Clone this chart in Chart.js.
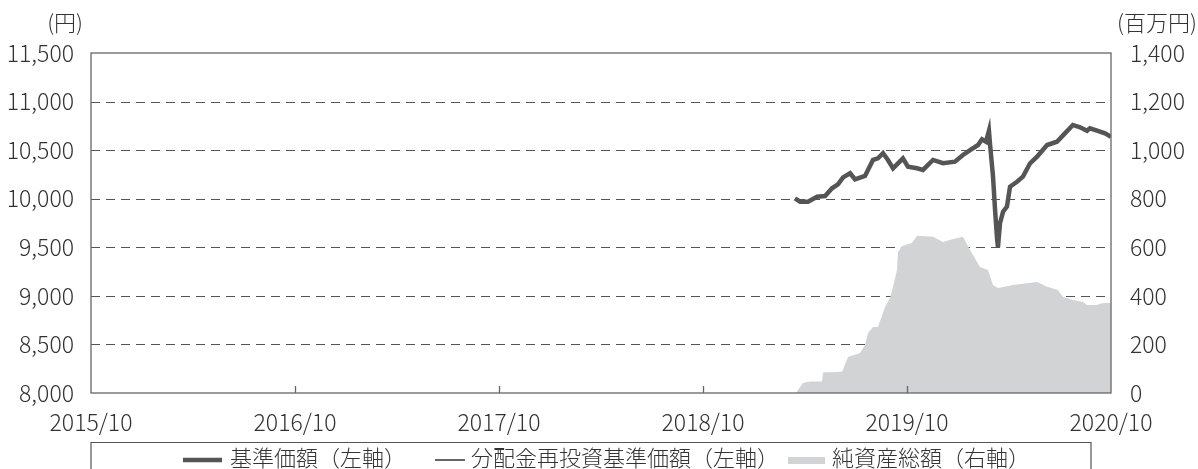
<!DOCTYPE html>
<html>
<head>
<meta charset="utf-8">
<script src="https://cdn.jsdelivr.net/npm/chart.js@4.4.1/dist/chart.umd.min.js"></script>
<style>
html, body { margin: 0; padding: 0; background: #fff; }
#wrap { width: 1198px; height: 469px; }
</style>
</head>
<body>
<div id="wrap"><canvas id="chart"></canvas></div>
<script>
// x values are months counted from 2015/10
const xTickLabels = ['2015/10', '2016/10', '2017/10', '2018/10', '2019/10', '2020/10'];
const xTickMonths = [0, 12, 24, 36, 48, 60];
const leftTicks = [8000, 8500, 9000, 9500, 10000, 10500, 11000, 11500];
const rightTicks = [0, 200, 400, 600, 800, 1000, 1200, 1400];

const navMonths = [41.41, 41.71, 42.18, 42.71, 43.18, 43.59, 43.94, 44.24, 44.65, 44.94,
  45.53, 46.0, 46.29, 46.59, 46.88, 47.18, 47.76, 48.06, 48.59, 48.94,
  49.53, 50.12, 50.82, 51.29, 51.71, 52.18, 52.41, 52.65, 52.82, 52.88,
  53.06, 53.18, 53.29, 53.35, 53.47, 53.65, 53.88, 54.06, 54.47, 54.82,
  55.24, 55.65, 56.24, 56.82, 57.29, 57.76, 58.18, 58.59, 58.76, 59.18, 59.65, 60];
const navValues = [10004, 9970, 9970, 10021, 10028, 10107, 10148, 10220, 10262, 10200,
  10234, 10399, 10416, 10468, 10399, 10313, 10416, 10330, 10313, 10296,
  10399, 10365, 10381, 10450, 10501, 10553, 10612, 10587, 10700, 10570,
  10227, 9884, 9609, 9500, 9747, 9866, 9918, 10124, 10175, 10227,
  10365, 10433, 10553, 10587, 10673, 10759, 10735, 10700, 10725, 10700, 10673, 10638];

const assetMonths = [41.47, 41.88, 42.29, 43.0, 43.06, 44.18, 44.53, 45.24, 45.53, 45.71,
  46.0, 46.29, 46.71, 47.0, 47.18, 47.41, 47.47, 47.71, 48.29, 48.59,
  49.53, 50.12, 50.71, 51.29, 51.71, 52.29, 52.76, 53.06, 53.35, 54.24,
  55.65, 56.24, 56.88, 57.18, 57.76, 58.35, 58.59, 59.18, 59.47, 60];
const assetValues = [0, 41, 47, 47, 84, 88, 148, 165, 198, 247,
  272, 272, 354, 391, 437, 506, 580, 605, 618, 647,
  643, 622, 634, 643, 589, 519, 506, 445, 432, 445,
  457, 437, 424, 395, 383, 375, 362, 362, 370, 372];

const legendLabels = ['基準価額（左軸）', '分配金再投資基準価額（左軸）', '純資産総額（右軸）'];

const FONT = "'Noto Sans CJK JP', 'Noto Sans', sans-serif";
const TEXT = '#333';
const LINE = '#555';
const AREA = '#d1d3d4';

const toPoints = (xs, ys) => xs.map((m, i) => ({ x: m, y: ys[i] }));

const decor = {
  id: 'decor',
  beforeDatasetsDraw(chart) {
    const { ctx, chartArea: a, scales: { y } } = chart;
    ctx.save();
    ctx.strokeStyle = '#555';
    ctx.lineWidth = 1;
    ctx.setLineDash([9, 6]);
    leftTicks.slice(1, -1).forEach(v => {
      const py = Math.round(y.getPixelForValue(v)) + 0.5;
      ctx.beginPath();
      ctx.moveTo(a.left, py);
      ctx.lineTo(a.right, py);
      ctx.stroke();
    });
    ctx.restore();
  },
  afterDatasetsDraw(chart) {
    const { ctx, chartArea: a, scales: { x } } = chart;
    ctx.save();
    ctx.strokeStyle = '#666';
    ctx.lineWidth = 1.3;
    ctx.strokeRect(a.left, a.top, a.right - a.left, a.bottom - a.top);
    // small inner ticks on the date axis
    xTickMonths.slice(1, -1).forEach(m => {
      const px = Math.round(x.getPixelForValue(m)) + 0.5;
      ctx.beginPath();
      ctx.moveTo(px, a.bottom);
      ctx.lineTo(px, a.bottom - 7);
      ctx.stroke();
    });
    ctx.restore();
  },
  afterDraw(chart) {
    const { ctx, chartArea: a } = chart;
    ctx.save();
    ctx.fillStyle = TEXT;
    ctx.font = '300 22px ' + FONT;
    ctx.textBaseline = 'middle';
    ctx.textAlign = 'right';
    ctx.fillText('(円)', a.left - 8, 23);
    ctx.textAlign = 'left';
    ctx.fillText('(百万円)', a.right + 6, 23);

    // legend box
    ctx.strokeStyle = '#555';
    ctx.lineWidth = 1.2;
    ctx.beginPath();
    ctx.moveTo(a.left, 475);
    ctx.lineTo(a.left, 442.5);
    ctx.lineTo(1091, 442.5);
    ctx.lineTo(1091, 475);
    ctx.stroke();

    const ly = 460;
    ctx.strokeStyle = LINE;
    ctx.lineWidth = 4.5;
    ctx.beginPath(); ctx.moveTo(183, ly); ctx.lineTo(222, ly); ctx.stroke();
    ctx.lineWidth = 1.8;
    ctx.beginPath(); ctx.moveTo(435, ly); ctx.lineTo(465, ly); ctx.stroke();
    ctx.fillStyle = AREA;
    ctx.fillRect(788, ly - 3, 37, 7);

    ctx.fillStyle = TEXT;
    ctx.font = '300 22px ' + FONT;
    ctx.textAlign = 'left';
    ctx.textBaseline = 'middle';
    ctx.fillText(legendLabels[0], 230, ly - 2);
    ctx.fillText(legendLabels[1], 471, ly - 2);
    ctx.fillText(legendLabels[2], 832, ly - 2);
    ctx.restore();
  }
};

const tickFont = { family: FONT, size: 23, weight: 300 };

new Chart(document.getElementById('chart'), {
  type: 'line',
  data: {
    datasets: [
      {
        label: legendLabels[0],
        data: toPoints(navMonths, navValues),
        yAxisID: 'y',
        borderColor: LINE,
        borderWidth: 4.5,
        pointRadius: 0,
        tension: 0,
        fill: false
      },
      {
        label: legendLabels[1],
        data: toPoints(navMonths, navValues),
        yAxisID: 'y',
        borderColor: LINE,
        borderWidth: 1.5,
        pointRadius: 0,
        tension: 0,
        fill: false
      },
      {
        label: legendLabels[2],
        data: toPoints(assetMonths, assetValues),
        yAxisID: 'y2',
        borderWidth: 0,
        borderColor: AREA,
        backgroundColor: AREA,
        pointRadius: 0,
        tension: 0,
        fill: 'origin'
      }
    ]
  },
  options: {
    responsive: true,
    maintainAspectRatio: false,
    animation: false,
    layout: { padding: { top: 53, left: 0, right: 0, bottom: 0 } },
    plugins: {
      legend: { display: false },
      tooltip: { enabled: false }
    },
    scales: {
      x: {
        type: 'linear',
        min: 0,
        max: 60,
        afterBuildTicks: s => { s.ticks = xTickMonths.map(v => ({ value: v })); },
        afterFit: s => { s.height = 76; },
        grid: { display: false },
        border: { display: false },
        ticks: {
          callback: (v, i) => xTickLabels[i],
          color: TEXT,
          font: tickFont,
          padding: 7,
          maxRotation: 0,
          autoSkip: false
        }
      },
      y: {
        position: 'left',
        min: 8000,
        max: 11500,
        afterBuildTicks: s => { s.ticks = leftTicks.map(v => ({ value: v })); },
        afterFit: s => { s.width = 91; },
        grid: { display: false },
        border: { display: false },
        ticks: {
          callback: v => v.toLocaleString('en-US'),
          color: TEXT,
          font: tickFont,
          padding: 9
        }
      },
      y2: {
        position: 'right',
        min: 0,
        max: 1400,
        afterBuildTicks: s => { s.ticks = rightTicks.map(v => ({ value: v })); },
        afterFit: s => { s.width = 87; },
        grid: { display: false },
        border: { display: false },
        ticks: {
          callback: v => v.toLocaleString('en-US'),
          color: TEXT,
          font: tickFont,
          padding: 11
        }
      }
    }
  },
  plugins: [decor]
});
</script>
</body>
</html>
